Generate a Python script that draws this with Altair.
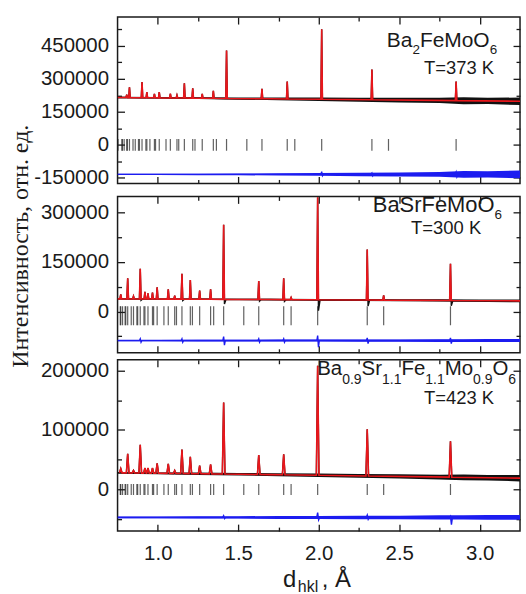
import altair as alt
import numpy as np
import pandas as pd

D_RANGE = [0.75, 3.25]
X_MAJOR = [1.0, 1.5, 2.0, 2.5, 3.0]
X_MINOR = [1.25, 1.75, 2.25, 2.75]

# Bragg reflection positions, Å
bragg_ba2 = [2.853, 2.433, 2.330, 2.018, 1.851, 1.804, 1.647, 1.553, 1.427,
             1.364, 1.345, 1.276, 1.231, 1.217, 1.165, 1.130, 1.119, 1.078,
             1.051, 1.009, 0.986, 0.979, 0.951, 0.932, 0.926, 0.902, 0.886,
             0.880, 0.860, 0.846, 0.824, 0.811, 0.807, 0.791, 0.780, 0.777, 0.753]
bragg_basr = [2.818, 2.403, 2.301, 1.993, 1.828, 1.782, 1.627, 1.534, 1.409,
              1.347, 1.328, 1.260, 1.215, 1.202, 1.150, 1.116, 1.105, 1.065,
              1.038, 0.996, 0.974, 0.967, 0.939, 0.920, 0.914, 0.891, 0.875,
              0.870, 0.849, 0.835, 0.813, 0.801, 0.797, 0.781, 0.770, 0.767]
bragg_ba09 = [2.818, 2.403, 2.301, 1.993, 1.828, 1.782, 1.627, 1.534, 1.409,
              1.347, 1.328, 1.260, 1.215, 1.202, 1.150, 1.116, 1.105, 1.065,
              1.038, 0.996, 0.974, 0.967, 0.939, 0.920, 0.914, 0.891, 0.875,
              0.870, 0.849, 0.835, 0.813, 0.801, 0.797, 0.781, 0.770, 0.767]

# background level knots
bg_d = [0.75, 1.7, 3.25]
bg_ba2 = [215000, 209000, 198000]
bg_basr = [38000, 36000, 32000]
bg_ba09 = [28000, 25000, 19000]

# peak positions and maxima
peak_d_ba2 = [0.807, 0.824, 0.902, 0.932, 0.979, 1.009, 1.078, 1.119, 1.165,
              1.217, 1.276, 1.345, 1.427, 1.647, 1.804, 2.018, 2.330, 2.853]
peak_top_ba2 = [228000, 261000, 285000, 240000, 231000, 240000, 232000, 225000, 279000,
                257000, 231000, 245000, 428000, 255000, 288000, 525000, 342000, 288000]

peak_d_basr = [0.770, 0.813, 0.849, 0.891, 0.920, 0.939, 0.967, 0.996, 1.065, 1.105, 1.150,
               1.202, 1.260, 1.328, 1.409, 1.627, 1.782, 1.828, 1.993, 2.301, 2.403, 2.818]
peak_top_basr = [52000, 100000, 46000, 129000, 59000, 55000, 57000, 73000, 67000, 48000, 114000,
                 95000, 63000, 67000, 262000, 92000, 100000, 42000, 345000, 187000, 49000, 144000]
peak_dip_basr = [0, 0, 0, 4000, 0, 0, 0, 0, 0, 0, 4000,
                 0, 0, 0, 14000, 5000, 5000, 0, 33000, 18000, 0, 16000]

peak_d_ba09 = [0.770, 0.813, 0.849, 0.891, 0.920, 0.939, 0.967, 0.996, 1.065, 1.105,
               1.150, 1.202, 1.260, 1.328, 1.409, 1.627, 1.782, 1.993, 2.301, 2.818]
peak_top_ba09 = [35000, 60000, 32000, 75000, 36000, 36000, 36000, 44000, 43000, 32000,
                 67000, 55000, 40000, 42000, 146000, 58000, 59000, 208000, 101000, 81000]

# scatter of the measured points around the background (half-widths)
noise_d = [0.75, 1.0, 1.25, 1.5, 1.75, 2.0, 2.25, 2.5, 2.75, 2.9, 3.05, 3.25]
noise_ba2 = [3000, 3500, 4000, 5000, 6000, 8000, 9000, 11000, 12000, 16000, 14000, 17000]
noise_basr = [1500, 1500, 2000, 2000, 2500, 2500, 3000, 3000, 3500, 3500, 4000, 4000]
noise_ba09 = [1500, 1500, 2000, 2000, 2500, 3000, 3000, 3500, 4000, 5000, 4500, 5500]

# difference curve: level, scatter, excursions at strong reflections
diff_level_ba2, diff_level_basr, diff_level_ba09 = -134000, -88000, -47000
diff_noise_ba2 = [2500, 3000, 3500, 4000, 5000, 6000, 8000, 9000, 11000, 15000, 14000, 18000]
diff_noise_basr = [2000, 2000, 2500, 2500, 3000, 3000, 3500, 3500, 4000, 4000, 4500, 4500]
diff_noise_ba09 = [1500, 1500, 2000, 2000, 2500, 2500, 3000, 3000, 3500, 3500, 4000, 4000]
spike_d_ba2 = [2.018, 2.330, 2.853]
spike_up_ba2 = [12000, 6000, 10000]
spike_dn_ba2 = [6000, 6000, 10000]
spike_d_basr = [0.891, 1.150, 1.409, 1.627, 1.782, 1.993, 2.301, 2.818]
spike_up_basr = [5000, 5000, 12000, 5000, 5000, 15000, 8000, 8000]
spike_dn_basr = [5000, 5000, 14000, 5000, 5000, 20000, 9000, 9000]
spike_d_ba09 = [1.409, 1.993, 2.301, 2.818]
spike_up_ba09 = [3000, 8000, 4000, 2000]
spike_dn_ba09 = [2000, 4000, 3000, 12000]

FONT = "Liberation Sans"
RED, BLACK, BLUE, INK = "#e8161b", "#111111", "#1c1cf0", "#1a1a1a"

GLYPH_W = {"B": 667, "a": 556, "S": 667, "r": 333, "F": 611, "e": 556, "M": 833,
           "o": 556, "O": 778, "T": 611, "=": 584, " ": 278, "K": 667, ".": 278,
           "d": 556, "h": 556, "k": 500, "l": 222, ",": 278, "Å": 667}


def seg_width(s, fs):
    return sum(GLYPH_W.get(c, 556) for c in s) * fs / 1000.0


def text_mark(t, x, y, fs, align="left", **kw):
    return alt.Chart(pd.DataFrame({"t": [t]})).mark_text(
        align=align, baseline="alphabetic", fontSize=fs, font=FONT, color=INK, **kw
    ).encode(x=alt.value(x), y=alt.value(y), text="t:N")


def formula(parts, right_x, base_y, fs, sub_fs, sub_drop):
    total = sum(seg_width(t, sub_fs if sub else fs) for t, sub in parts)
    x = right_x - total
    out = []
    for t, sub in parts:
        size = sub_fs if sub else fs
        out.append(text_mark(t, x, base_y + (sub_drop if sub else 0), size))
        x += seg_width(t, size)
    return out


def profile(peak_d, peak_top, bgv, w, dips=None):
    spans = [(p - 3 * w, p + 3 * w) for p in peak_d]
    pts = [(d, v) for d, v in zip(bg_d, bgv) if not any(a <= d <= b for a, b in spans)]
    for i, (p, top) in enumerate(zip(peak_d, peak_top)):
        base_l = float(np.interp(p - w, bg_d, bgv))
        base_r = float(np.interp(p + w, bg_d, bgv))
        pts += [(p - w, base_l), (p, top)]
        dip = dips[i] if dips else 0
        if dip:
            pts += [(p + w, base_r - dip), (p + 3 * w, float(np.interp(p + 3 * w, bg_d, bgv)))]
        else:
            pts += [(p + w, base_r)]
    return pd.DataFrame(pts, columns=["d", "v"]).sort_values("d")


def band(center, half):
    c = np.asarray(center, dtype=float)
    h = np.asarray(half, dtype=float)
    return pd.DataFrame({"d": noise_d, "lo": c - h, "hi": c + h})


def diff_line(level, sd, up, dn, w):
    pts = [(D_RANGE[0], level), (D_RANGE[1], level)]
    for p, u, n in zip(sd, up, dn):
        pts += [(p - w, level), (p, level + u), (p + w, level - n), (p + 2 * w, level)]
    return pd.DataFrame(pts, columns=["d", "v"]).sort_values("d")


def x_axis(kind, labels=False):
    major = kind.endswith("major")
    size = 7 if major else 4
    return alt.Axis(orient=kind.split("_")[0], values=X_MAJOR if major else X_MINOR,
                    tickSize=size, offset=-size, domain=False, grid=False,
                    labels=labels and major, labelPadding=12, format=".1f",
                    labelFontSize=20.5, labelFont=FONT, labelColor=INK,
                    tickColor=INK, tickWidth=1.3, title=None)


def y_axis(kind, values):
    major = kind.endswith("major")
    size = 7 if major else 4
    return alt.Axis(orient=kind.split("_")[0], values=values,
                    tickSize=size, offset=-size, domain=False, grid=False,
                    labels=(kind == "left_major"), labelPadding=9,
                    labelExpr="datum.value < 0 ? '-' + abs(datum.value) : '' + datum.value",
                    labelFontSize=20.5, labelFont=FONT, labelColor=INK,
                    tickColor=INK, tickWidth=1.3, title=None)


def panel(height, y_dom, y_major, y_minor, calc, obs, obs_band, dband, dline,
          bragg, bragg_y, bragg_len, extra, show_x_labels=False):
    ys = alt.Scale(domain=y_dom, nice=False, zero=False)
    xs = alt.Scale(domain=D_RANGE, nice=False, zero=False)
    L1 = alt.Chart(obs_band).mark_area(color=BLACK, clip=True).encode(
        x=alt.X("d:Q", scale=xs, axis=x_axis("bottom_major", show_x_labels)),
        y=alt.Y("lo:Q", scale=ys, axis=y_axis("left_major", y_major)),
        y2="hi:Q")
    L2 = alt.Chart(obs).mark_line(color=BLACK, strokeWidth=1.4, clip=True).encode(
        x=alt.X("d:Q", scale=xs, axis=x_axis("bottom_minor")),
        y=alt.Y("v:Q", scale=ys, axis=y_axis("left_minor", y_minor)))
    L3 = alt.Chart(calc).mark_line(color=RED, strokeWidth=1.6, clip=True).encode(
        x=alt.X("d:Q", scale=xs, axis=x_axis("top_major")),
        y=alt.Y("v:Q", scale=ys, axis=y_axis("right_major", y_major)))
    L4 = alt.Chart(dband).mark_area(color=BLUE, clip=True).encode(
        x=alt.X("d:Q", scale=xs, axis=x_axis("top_minor")),
        y=alt.Y("lo:Q", scale=ys, axis=y_axis("right_minor", y_minor)),
        y2="hi:Q")
    L5 = alt.Chart(dline).mark_line(color=BLUE, strokeWidth=1.4, clip=True).encode(
        x=alt.X("d:Q", scale=xs, axis=None), y=alt.Y("v:Q", scale=ys, axis=None))
    L6 = alt.Chart(pd.DataFrame({"d": bragg, "y": [bragg_y] * len(bragg)})).mark_tick(
        orient="vertical", size=bragg_len, thickness=1.2, color="#1e1e1e", clip=True).encode(
        x=alt.X("d:Q", scale=xs, axis=None), y=alt.Y("y:Q", scale=ys, axis=None))
    return alt.layer(L1, L2, L3, L4, L5, L6, *extra).properties(
        width=404, height=height).resolve_axis(x="independent", y="independent")


def interp_bg(bgv):
    return np.interp(noise_d, bg_d, bgv)


# Ba2FeMoO6, 373 K
p1 = panel(
    167, [-175000, 580000], [-150000, 0, 150000, 300000, 450000],
    [-75000, 75000, 225000, 375000, 525000],
    profile(peak_d_ba2, peak_top_ba2, bg_ba2, 0.0045),
    profile(peak_d_ba2, peak_top_ba2, bg_ba2, 0.0045),
    band(interp_bg(bg_ba2), noise_ba2),
    band([diff_level_ba2] * len(noise_d), diff_noise_ba2),
    diff_line(diff_level_ba2, spike_d_ba2, spike_up_ba2, spike_dn_ba2, 0.005),
    bragg_ba2, 0, 12,
    formula([("Ba", 0), ("2", 1), ("FeMoO", 0), ("6", 1)], 381, 30, 21, 13.5, 7)
    + [text_mark("T=373 K", 378, 57, 18.5, align="right")])

# BaSrFeMoO6, 300 K
p2 = panel(
    157, [-125000, 348000], [0, 150000, 300000], [-75000, 75000, 225000],
    profile(peak_d_basr, peak_top_basr, bg_basr, 0.005),
    profile(peak_d_basr, peak_top_basr, bg_basr, 0.005, peak_dip_basr),
    band(interp_bg(bg_basr), noise_basr),
    band([diff_level_basr] * len(noise_d), diff_noise_basr),
    diff_line(diff_level_basr, spike_d_basr, spike_up_basr, spike_dn_basr, 0.005),
    bragg_basr, -13000, 19,
    formula([("BaSrFeMoO", 0), ("6", 1)], 386, 16, 22, 13.5, 7)
    + [text_mark("T=300 K", 365, 38, 18.5, align="right"),
       alt.Chart(pd.DataFrame({"t": ["Интенсивность, отн. ед."]})).mark_text(
           angle=270, align="center", baseline="middle", font="Liberation Serif",
           fontSize=24, color=INK).encode(x=alt.value(-97), y=alt.value(50), text="t:N")])

# Ba0.9Sr1.1Fe1.1Mo0.9O6, 423 K
p3 = panel(
    172, [-70000, 218000], [0, 100000, 200000], [-50000, 50000, 150000],
    profile(peak_d_ba09, peak_top_ba09, bg_ba09, 0.008),
    profile(peak_d_ba09, peak_top_ba09, bg_ba09, 0.008),
    band(interp_bg(bg_ba09), noise_ba09),
    band([diff_level_ba09] * len(noise_d), diff_noise_ba09),
    diff_line(diff_level_ba09, spike_d_ba09, spike_up_ba09, spike_dn_ba09, 0.006),
    bragg_ba09, 0, 11,
    formula([("Ba", 0), ("0.9", 1), ("Sr", 0), ("1.1", 1), ("Fe", 0), ("1.1", 1),
             ("Mo", 0), ("0.9", 1), ("O", 0), ("6", 1)], 400, 15, 20.5, 14, 9)
    + [text_mark("T=423 K", 378, 44, 18.5, align="right"),
       text_mark("d", 166, 228, 24), text_mark("hkl", 181, 233, 16),
       text_mark(", Å", 205, 228, 24)],
    show_x_labels=True)

chart = alt.vconcat(
    p1, alt.vconcat(p2, p3, spacing=7, bounds="flush"), spacing=13, bounds="flush"
).properties(
    padding={"left": 8, "top": 14, "right": 4, "bottom": 0}
).configure_view(stroke=INK, strokeWidth=1.5)

chart.save("out.html", embed_options={"renderer": "svg", "actions": False})
